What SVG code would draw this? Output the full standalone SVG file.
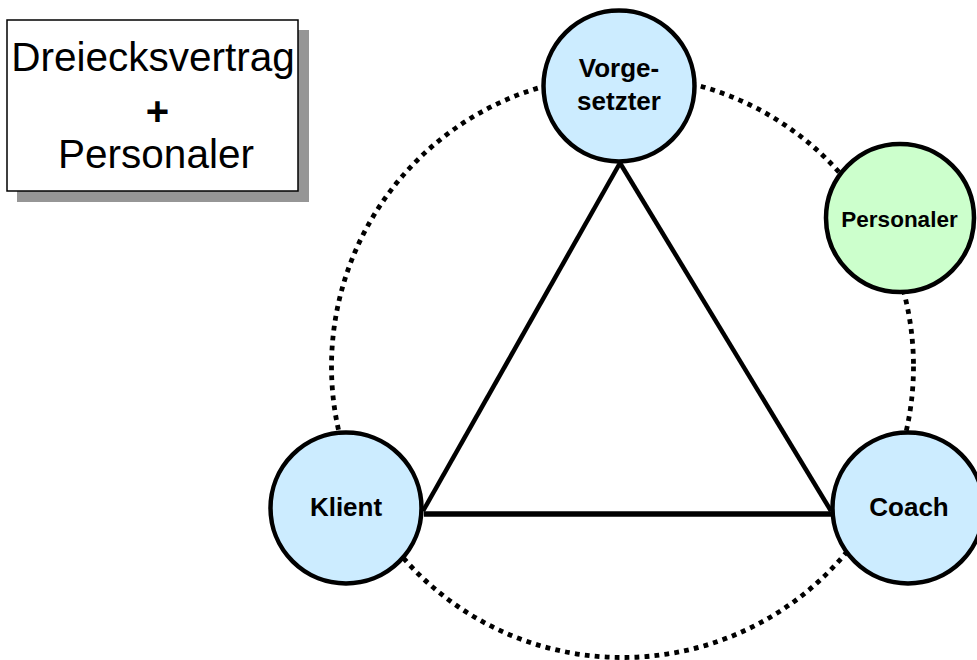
<svg xmlns="http://www.w3.org/2000/svg" width="977" height="660" viewBox="0 0 977 660">
  <style>
    .node { stroke: #000; stroke-width: 4.5; }
    .blue { fill: #CCECFF; }
    .green { fill: #CCFFCC; }
    .label { font-family: "Liberation Sans", Arial, sans-serif; font-weight: bold; font-size: 26px; text-anchor: middle; fill: #000; }
    .small { font-size: 22.5px; }
    .title { font-family: "Liberation Sans", Arial, sans-serif; font-size: 40.5px; text-anchor: middle; fill: #000; }
    .plus { font-size: 40px; font-weight: bold; }
    .edge { stroke: #000; fill: none; stroke-linecap: butt; }
  </style>
  <rect width="977" height="660" fill="#fff"/>

  <!-- title box with drop shadow -->
  <g id="title">
    <rect x="17" y="30" width="292" height="172" fill="#969696"/>
    <rect x="7" y="20" width="291" height="171" fill="#fff" stroke="#000" stroke-width="1.5"/>
    <text class="title" x="153" y="71">Dreiecksvertrag</text>
    <text class="title plus" x="157.5" y="125">+</text>
    <text class="title" x="156" y="168">Personaler</text>
  </g>

  <!-- connectors: dotted ring and triangle -->
  <g id="connectors">
    <circle cx="622.5" cy="366.5" r="291" class="edge" stroke-width="4.8" stroke-dasharray="4.8 5.2"/>
    <line x1="620" y1="163" x2="423" y2="511" class="edge" stroke-width="4.5"/>
    <line x1="620" y1="163" x2="831" y2="511" class="edge" stroke-width="4.5"/>
    <line x1="424" y1="514" x2="831" y2="514" class="edge" stroke-width="5.5"/>
  </g>

  <g id="vorgesetzter">
    <circle cx="619" cy="86" r="75.5" class="node blue"/>
    <text class="label" x="619" y="77">Vorge-</text>
    <text class="label" x="619" y="110">setzter</text>
  </g>

  <g id="personaler">
    <circle cx="900" cy="218" r="74" class="node green"/>
    <text class="label small" x="899.5" y="227">Personaler</text>
  </g>

  <g id="klient">
    <circle cx="346" cy="508" r="75.5" class="node blue"/>
    <text class="label" x="346" y="516">Klient</text>
  </g>

  <g id="coach">
    <circle cx="908" cy="508" r="75.5" class="node blue"/>
    <text class="label" x="909" y="516">Coach</text>
  </g>
</svg>
